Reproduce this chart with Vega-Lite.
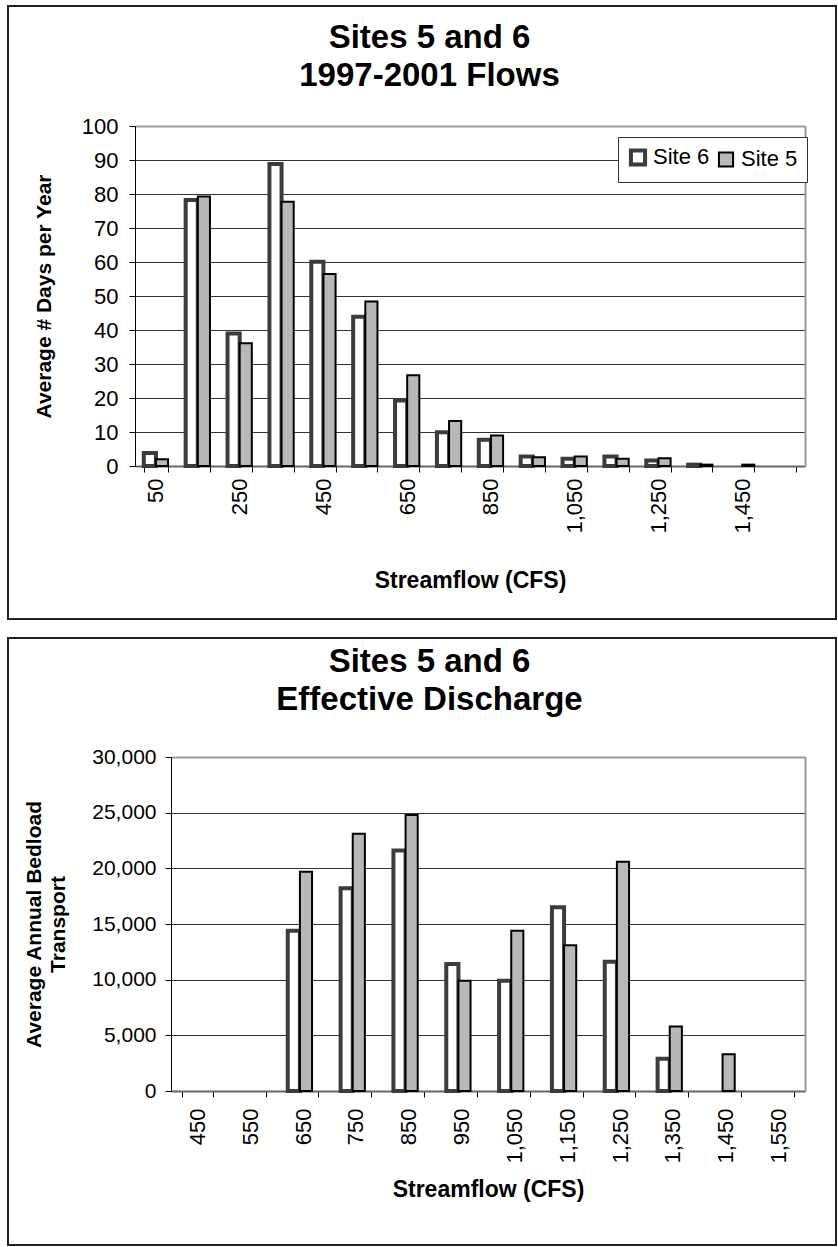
{
  "$schema": "https://vega.github.io/schema/vega-lite/v6.json",
  "background": "white",
  "padding": {"left": -4, "top": -102, "right": 0, "bottom": 0},
  "spacing": -47,
  "config": {
    "font": "Liberation Sans",
    "view": {"stroke": "#222222", "strokeWidth": 2},
    "axis": {
      "labelColor": "#000000",
      "titleColor": "#000000",
      "tickColor": "#000000",
      "domainColor": "#000000",
      "labelFontWeight": "normal",
      "titleFontWeight": "bold"
    },
    "legend": {"labelColor": "#000000"}
  },
  "vconcat": [
    {
      "width": 828,
      "height": 613,
      "data": {
        "values": [
          {"flow": 50, "site": "Site 6", "days": 3.8},
          {"flow": 50, "site": "Site 5", "days": 2.0},
          {"flow": 150, "site": "Site 6", "days": 78.2},
          {"flow": 150, "site": "Site 5", "days": 79.3},
          {"flow": 250, "site": "Site 6", "days": 39.0},
          {"flow": 250, "site": "Site 5", "days": 36.1},
          {"flow": 350, "site": "Site 6", "days": 88.8},
          {"flow": 350, "site": "Site 5", "days": 77.7},
          {"flow": 450, "site": "Site 6", "days": 60.1},
          {"flow": 450, "site": "Site 5", "days": 56.5},
          {"flow": 550, "site": "Site 6", "days": 43.9},
          {"flow": 550, "site": "Site 5", "days": 48.4},
          {"flow": 650, "site": "Site 6", "days": 19.3},
          {"flow": 650, "site": "Site 5", "days": 26.7},
          {"flow": 750, "site": "Site 6", "days": 9.9},
          {"flow": 750, "site": "Site 5", "days": 13.2},
          {"flow": 850, "site": "Site 6", "days": 7.7},
          {"flow": 850, "site": "Site 5", "days": 9.0},
          {"flow": 950, "site": "Site 6", "days": 2.8},
          {"flow": 950, "site": "Site 5", "days": 2.6},
          {"flow": 1050, "site": "Site 6", "days": 2.1},
          {"flow": 1050, "site": "Site 5", "days": 2.8},
          {"flow": 1150, "site": "Site 6", "days": 2.8},
          {"flow": 1150, "site": "Site 5", "days": 2.1},
          {"flow": 1250, "site": "Site 6", "days": 1.6},
          {"flow": 1250, "site": "Site 5", "days": 2.3},
          {"flow": 1350, "site": "Site 6", "days": 0.4},
          {"flow": 1350, "site": "Site 5", "days": 0.4},
          {"flow": 1450, "site": "Site 5", "days": 0.4}
        ]
      },
      "resolve": {"axis": {"x": "independent", "y": "independent"}},
      "layer": [
        {
          "mark": {"type": "bar"},
          "encoding": {
            "x": {
              "field": "flow",
              "type": "ordinal",
              "scale": {
                "domain": [50, 150, 250, 350, 450, 550, 650, 750, 850, 950, 1050, 1150, 1250, 1350, 1450, 1550],
                "range": [127, 797],
                "paddingInner": 0.42,
                "paddingOuter": 0.21
              },
              "axis": {
                "orient": "bottom",
                "offset": -153,
                "tickBand": "extent",
                "tickSize": 6,
                "labelAngle": 270,
                "labelFontSize": 22,
                "labelPadding": 6,
                "labelOverlap": false,
                "labelExpr": "(datum.value - 50) % 200 == 0 ? format(datum.value, ',') : ''",
                "domainColor": "#666666",
                "domainWidth": 2,
                "grid": false,
                "title": "Streamflow (CFS)",
                "titleFontSize": 23,
                "titlePadding": 36
              }
            },
            "xOffset": {
              "field": "site",
              "type": "nominal",
              "scale": {"domain": ["Site 6", "Site 5"], "paddingInner": 0, "paddingOuter": 0}
            },
            "y": {
              "field": "days",
              "type": "quantitative",
              "scale": {"domain": [0, 100], "range": [460, 120], "nice": false},
              "axis": {
                "orient": "left",
                "offset": -127,
                "values": [0, 10, 20, 30, 40, 50, 60, 70, 80, 90, 100],
                "labelExpr": "format(datum.value, 'd')",
                "tickSize": 6,
                "labelFontSize": 22,
                "labelPadding": 11,
                "grid": true,
                "gridColor": "#333333",
                "gridWidth": 1,
                "title": "Average # Days per Year",
                "titleFontSize": 21,
                "titlePadding": 27
              }
            },
            "fill": {
              "field": "site",
              "type": "nominal",
              "scale": {"domain": ["Site 6", "Site 5"], "range": ["#ffffff", "#b8b8b8"]},
              "legend": {
                "orient": "none",
                "legendX": 610,
                "legendY": 131,
                "direction": "horizontal",
                "title": null,
                "symbolType": "square",
                "symbolSize": 200,
                "symbolStrokeWidth": 3,
                "labelFontSize": 22,
                "labelOffset": 4,
                "columnPadding": 4,
                "padding": 9,
                "strokeColor": "#333333",
                "fillColor": "#ffffff"
              }
            },
            "stroke": {
              "field": "site",
              "type": "nominal",
              "scale": {"domain": ["Site 6", "Site 5"], "range": ["#3c3c3c", "#000000"]},
              "legend": {
                "orient": "none",
                "legendX": 610,
                "legendY": 131,
                "direction": "horizontal",
                "title": null,
                "symbolType": "square",
                "symbolSize": 200,
                "symbolStrokeWidth": 3,
                "labelFontSize": 22,
                "labelOffset": 4,
                "columnPadding": 4,
                "padding": 9,
                "strokeColor": "#333333",
                "fillColor": "#ffffff"
              }
            },
            "strokeWidth": {
              "field": "site",
              "type": "nominal",
              "scale": {"type": "ordinal", "domain": ["Site 6", "Site 5"], "range": [4, 2]},
              "legend": null
            }
          }
        },
        {
          "mark": {"type": "bar", "opacity": 0},
          "encoding": {
            "x": {
              "field": "flow",
              "type": "ordinal",
              "axis": {
                "orient": "top",
                "offset": -120,
                "labels": false,
                "ticks": false,
                "grid": false,
                "domainColor": "#999999",
                "domainWidth": 2,
                "title": ["Sites 5 and 6", "1997-2001 Flows"],
                "titleFontSize": 33,
                "titleLineHeight": 38,
                "titleBaseline": "alphabetic",
                "titleX": 421,
                "titleY": -79
              }
            },
            "y": {
              "field": "days",
              "type": "quantitative",
              "axis": {"orient": "right", "offset": -31, "labels": false, "ticks": false, "grid": false, "title": null, "domainColor": "#999999", "domainWidth": 2}
            }
          }
        }
      ]
    },
    {
      "width": 828,
      "height": 607,
      "data": {
        "values": [
          {"flow": 650, "site": "Site 6", "load": 14400},
          {"flow": 650, "site": "Site 5", "load": 19700},
          {"flow": 750, "site": "Site 6", "load": 18200},
          {"flow": 750, "site": "Site 5", "load": 23100},
          {"flow": 850, "site": "Site 6", "load": 21600},
          {"flow": 850, "site": "Site 5", "load": 24800},
          {"flow": 950, "site": "Site 6", "load": 11400},
          {"flow": 950, "site": "Site 5", "load": 9900},
          {"flow": 1050, "site": "Site 6", "load": 9900},
          {"flow": 1050, "site": "Site 5", "load": 14400},
          {"flow": 1150, "site": "Site 6", "load": 16500},
          {"flow": 1150, "site": "Site 5", "load": 13100},
          {"flow": 1250, "site": "Site 6", "load": 11600},
          {"flow": 1250, "site": "Site 5", "load": 20600},
          {"flow": 1350, "site": "Site 6", "load": 2900},
          {"flow": 1350, "site": "Site 5", "load": 5800},
          {"flow": 1450, "site": "Site 5", "load": 3300}
        ]
      },
      "resolve": {"axis": {"x": "independent", "y": "independent"}},
      "layer": [
        {
          "mark": {"type": "bar"},
          "encoding": {
            "x": {
              "field": "flow",
              "type": "ordinal",
              "scale": {
                "domain": [450, 550, 650, 750, 850, 950, 1050, 1150, 1250, 1350, 1450, 1550],
                "range": [163, 797],
                "paddingInner": 0.42,
                "paddingOuter": 0.21
              },
              "axis": {
                "orient": "bottom",
                "offset": -154,
                "tickBand": "extent",
                "tickSize": 6,
                "labelAngle": 270,
                "labelFontSize": 22,
                "labelPadding": 11,
                "labelOverlap": false,
                "labelExpr": "format(datum.value, ',')",
                "labelOpacity": {"condition": {"test": "isFinite(datum.value)", "value": 1}, "value": 0},
                "domainColor": "#666666",
                "domainWidth": 2,
                "grid": false,
                "title": "Streamflow (CFS)",
                "titleFontSize": 23,
                "titlePadding": 15
              }
            },
            "xOffset": {
              "field": "site",
              "type": "nominal",
              "scale": {"domain": ["Site 6", "Site 5"], "paddingInner": 0, "paddingOuter": 0}
            },
            "y": {
              "field": "load",
              "type": "quantitative",
              "scale": {"domain": [0, 30000], "range": [453, 119], "nice": false},
              "axis": {
                "orient": "left",
                "offset": -163,
                "values": [0, 5000, 10000, 15000, 20000, 25000, 30000],
                "labelExpr": "format(datum.value, ',')",
                "tickSize": 6,
                "labelFontSize": 21,
                "labelPadding": 9,
                "grid": true,
                "gridColor": "#333333",
                "gridWidth": 1,
                "title": ["Average Annual Bedload", "Transport"],
                "titleFontSize": 21,
                "titleLineHeight": 24,
                "titlePadding": 23
              }
            },
            "fill": {
              "field": "site",
              "type": "nominal",
              "scale": {"domain": ["Site 6", "Site 5"], "range": ["#ffffff", "#b8b8b8"]},
              "legend": {
                "orient": "none",
                "legendX": 610,
                "legendY": 151,
                "direction": "horizontal",
                "title": null,
                "symbolType": "square",
                "symbolSize": 200,
                "symbolStrokeWidth": 3,
                "labelFontSize": 22,
                "labelOffset": 4,
                "columnPadding": 4,
                "padding": 9,
                "strokeColor": "#333333",
                "fillColor": "#ffffff"
              }
            },
            "stroke": {
              "field": "site",
              "type": "nominal",
              "scale": {"domain": ["Site 6", "Site 5"], "range": ["#3c3c3c", "#000000"]},
              "legend": {
                "orient": "none",
                "legendX": 610,
                "legendY": 151,
                "direction": "horizontal",
                "title": null,
                "symbolType": "square",
                "symbolSize": 200,
                "symbolStrokeWidth": 3,
                "labelFontSize": 22,
                "labelOffset": 4,
                "columnPadding": 4,
                "padding": 9,
                "strokeColor": "#333333",
                "fillColor": "#ffffff"
              }
            },
            "strokeWidth": {
              "field": "site",
              "type": "nominal",
              "scale": {"type": "ordinal", "domain": ["Site 6", "Site 5"], "range": [4, 2]},
              "legend": null
            }
          }
        },
        {
          "mark": {"type": "bar", "opacity": 0},
          "encoding": {
            "x": {
              "field": "flow",
              "type": "ordinal",
              "axis": {
                "orient": "top",
                "offset": -119,
                "labels": false,
                "ticks": false,
                "grid": false,
                "domainColor": "#999999",
                "domainWidth": 2,
                "title": ["Sites 5 and 6", "Effective Discharge"],
                "titleFontSize": 33,
                "titleLineHeight": 38,
                "titleBaseline": "alphabetic",
                "titleX": 421,
                "titleY": -86
              }
            },
            "y": {
              "field": "load",
              "type": "quantitative",
              "axis": {"orient": "right", "offset": -31, "labels": false, "ticks": false, "grid": false, "title": null, "domainColor": "#999999", "domainWidth": 2}
            }
          }
        }
      ]
    }
  ]
}
